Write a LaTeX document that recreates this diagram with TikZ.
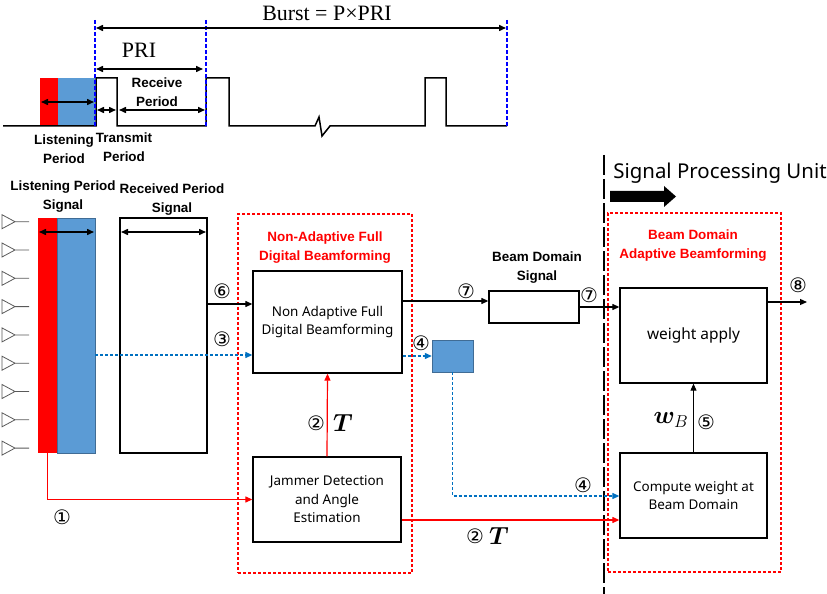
\documentclass[tikz,border=0pt]{standalone}
\usepackage{fontspec}
\usepackage{amsmath}
\usepackage{bm}
\setmainfont{Noto Sans}
\newfontfamily\circfont{DejaVu Sans}
\newfontfamily\timesfont{Liberation Serif}
\newfontfamily\lblfont{Liberation Sans}
\usetikzlibrary{arrows.meta}
\definecolor{lblue}{RGB}{91,155,213}
\definecolor{dblue}{RGB}{0,112,192}

\begin{document}
\begin{tikzpicture}[x=1bp, y=-1bp,
	>={Triangle[length=7bp,width=6bp]},
	box/.style={draw, line width=1.3bp, inner sep=0, align=center, font=\fontsize{13.5}{18.5}\selectfont},
	grp/.style={draw=red, line width=1.2bp, dash pattern=on 3bp off 2bp, inner sep=0},
	lbl/.style={font=\lblfont\bfseries\fontsize{13.5}{19}\selectfont, align=center, inner sep=0},
	redlbl/.style={lbl, text=red},
	num/.style={font=\circfont\fontsize{20}{20}\selectfont, inner sep=0},
	dim/.style={<->, line width=1.5bp},
	blueflow/.style={->, dblue, line width=1.2bp, dash pattern=on 3bp off 2bp},
	redflow/.style={->, red, line width=1.2bp}]
	\useasboundingbox (0,0) rectangle (827,594);

	% timing diagram
	\fill[red] (40,78) rectangle (58,126);
	\fill[lblue] (58,78) rectangle (95,126);
	\draw[line width=1.5bp] (3,126) -- (96,126) -- (96,78) -- (117,78) -- (117,126) -- (206,126) -- (206,78) -- (229,78) -- (229,126) -- (315,126) -- (319,117) -- (322,136) -- (330,126) -- (425,126) -- (425,78) -- (446,78) -- (446,126) -- (507,126);
	\draw[blue, line width=1.2bp, dash pattern=on 4bp off 2bp] (95,20) -- (95,126) (206,20) -- (206,126) (507,20) -- (507,126);
	\draw[dim] (96,28) -- (506,28); % burst
	\draw[dim] (96,69) -- (203,69); % PRI
	\draw[dim] (41,102) -- (94,102); % listening
	\draw[dim] (97,110) -- (116,110); % transmit
	\draw[dim] (119,110) -- (205,110); % receive
	\node[font=\timesfont\fontsize{22}{22}\selectfont] (burst) at (327,13) {Burst = P×PRI};
	\node[font=\timesfont\fontsize{22}{22}\selectfont] (pri) at (139,50) {PRI};
	\node[lbl] (recvper) at (157,92) {Receive\\Period};
	\node[lbl] (listper) at (64,149) {Listening\\Period};
	\node[lbl] (transper) at (124,147) {Transmit\\Period};

	% antennas
	\foreach \i in {0,...,8}
		\draw[gray!70!black, line width=0.8bp] (2,221.7+28.3*\i-7) -- (15,221.7+28.3*\i) -- (2,221.7+28.3*\i+7) -- cycle (15,221.7+28.3*\i) -- (29,221.7+28.3*\i);

	% signals
	\node[fill=red, inner sep=0, minimum width=19bp, minimum height=235bp] (lred) at (47.5,335.5) {};
	\node[fill=lblue, draw=lblue!70!black, inner sep=0, minimum width=38bp, minimum height=235bp] (lsig) at (76,335.5) {};
	\node[box, minimum width=87bp, minimum height=235bp] (recv) at (163.5,335.5) {};
	\draw[dim] (39,232) -- (94,232);
	\draw[dim] (121,232) -- (206,232);
	\node[lbl] (lsiglbl) at (63,197) {Listening Period\\Signal};
	\node[lbl] (recvlbl) at (172,200) {Received Period\\Signal};

	% non adaptive
	\node[grp, minimum width=174bp, minimum height=359bp] (grpna) at (325,393.5) {};
	\node[redlbl] (natitle) at (325,248) {Non-Adaptive Full\\Digital Beamforming};
	\node[box, minimum width=149bp, minimum height=102bp] (na) at (327.5,322) {Non Adaptive Full\\Digital Beamforming};
	\node[box, minimum width=148bp, minimum height=85bp] (jam) at (327,499.5) {Jammer Detection\\and Angle\\Estimation};
	\node[box, minimum width=90bp, minimum height=32bp] (bds) at (534,307) {};
	\node[lbl] (bdslbl) at (537,268) {Beam Domain\\Signal};
	\node[fill=lblue, draw=lblue!70!black, inner sep=0, minimum width=41bp, minimum height=32bp] (sb) at (452.5,356) {};

	% signal processing unit
	\draw[line width=2bp, dash pattern=on 20bp off 4bp] (604,155) -- (604,594);
	\node[font=\fontsize{20.5}{20.5}\selectfont] (spu) at (720,173) {Signal Processing Unit};
	\fill (610,191) -- (664,191) -- (664,186) -- (676,196.5) -- (664,207) -- (664,202) -- (610,202) -- cycle;
	\node[grp, minimum width=173bp, minimum height=359bp] (grpbd) at (694.5,392.5) {};
	\node[redlbl] (bdtitle) at (693,246) {Beam Domain\\Adaptive Beamforming};
	\node[box, minimum width=147bp, minimum height=95bp, font=\fontsize{15.5}{18}\selectfont] (wa) at (693.5,335.5) {weight apply};
	\node[box, minimum width=147bp, minimum height=85bp] (cw) at (693.5,495.5) {Compute weight at\\Beam Domain};
	\coordinate (out) at (807,302);

	% connections
	\draw[->, line width=1.2bp] (recv.east |- 0,304) -- (na.west |- 0,304); % 6
	\draw[blueflow] (lsig.east |- 0,355) -- (na.west |- 0,355); % 3
	\draw[->, line width=1.2bp] (na.east |- 0,301) -- (bds.west |- 0,301); % 7
	\draw[->, line width=1.2bp] (bds.east) -- (wa.west |- bds.east); % 7
	\draw[blueflow] (na.east |- sb.west) -- (sb.west); % 4
	\draw[blueflow] (sb.south) -- (sb.south |- 0,496) -- (cw.west |- 0,496); % 4
	\draw[redflow] (jam.north) -- (na.south); % 2
	\draw[redflow] (jam.east |- 0,520) -- (cw.west |- 0,520); % 2
	\draw[redflow] (lred.south) |- (jam.west); % 1
	\draw[->, line width=1bp] (cw.north) -- (wa.south); % 5
	\draw[->, line width=1.2bp] (wa.east |- out) -- (out); % 8

	% labels
	\node[num] (n6) at (222,291) {⑥};
	\node[num] (n3) at (222,339) {③};
	\node[num] (n7a) at (466,291) {⑦};
	\node[num] (n7b) at (589,295) {⑦};
	\node[num] (n4a) at (421,343) {④};
	\node[num] (n4b) at (583,485) {④};
	\node[num] (n2a) at (316,423) {②};
	\node[font=\fontsize{24}{24}\selectfont] (t2a) at (343,423) {$\bm{T}$};
	\node[num] (n1) at (62,517) {①};
	\node[num] (n2b) at (475,536) {②};
	\node[font=\fontsize{24}{24}\selectfont] (t2b) at (499,536) {$\bm{T}$};
	\node[num] (n8) at (798,285) {⑧};
	\node[num] (n5) at (706,422) {⑤};
	\node[font=\fontsize{26}{26}\selectfont] (wb) at (671,420) {$\bm{w}_B$};
\end{tikzpicture}
\end{document}
